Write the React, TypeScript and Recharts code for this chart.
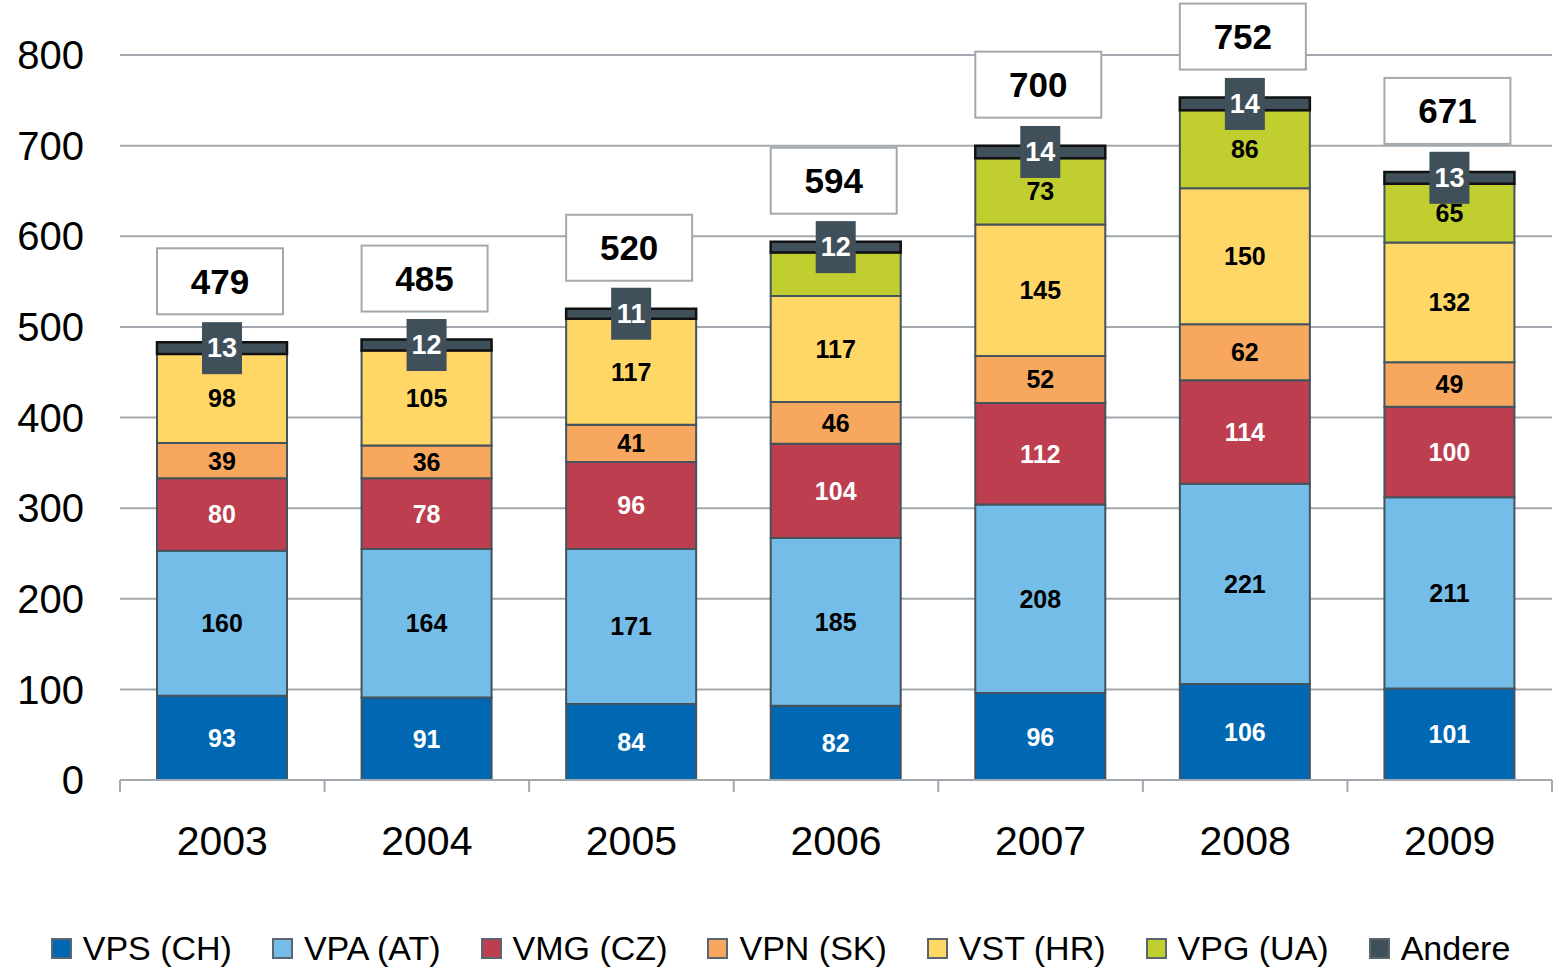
import React from 'react';
import { BarChart, Bar, XAxis, YAxis, CartesianGrid, LabelList, Legend } from 'recharts';

const years = ['2003', '2004', '2005', '2006', '2007', '2008', '2009'];
const vps = [93, 91, 84, 82, 96, 106, 101];
const vpa = [160, 164, 171, 185, 208, 221, 211];
const vmg = [80, 78, 96, 104, 112, 114, 100];
const vpn = [39, 36, 41, 46, 52, 62, 49];
const vst = [98, 105, 117, 117, 145, 150, 132];
const vpg = [null, null, null, 48, 73, 86, 65];
const vpgLabels = [null, null, null, null, 73, 86, 65];
const andere = [13, 12, 11, 12, 14, 14, 13];
const totals = [479, 485, 520, 594, 700, 752, 671];
const yTicks = [0, 100, 200, 300, 400, 500, 600, 700, 800];

const FONT = '"Liberation Sans", Arial, Helvetica, sans-serif';
const GRID = '#A2A8AD';
const EDGE = '#44535C';

const series = [
  { key: 'vps', labelKey: 'vps', name: 'VPS (CH)', color: '#0068B3', text: '#FFFFFF' },
  { key: 'vpa', labelKey: 'vpa', name: 'VPA (AT)', color: '#74BDE8', text: '#000000' },
  { key: 'vmg', labelKey: 'vmg', name: 'VMG (CZ)', color: '#BD3E4E', text: '#FFFFFF' },
  { key: 'vpn', labelKey: 'vpn', name: 'VPN (SK)', color: '#F8A85E', text: '#000000' },
  { key: 'vst', labelKey: 'vst', name: 'VST (HR)', color: '#FFD766', text: '#000000' },
  { key: 'vpg', labelKey: 'vpgLabel', name: 'VPG (UA)', color: '#C1CE2F', text: '#000000' },
];
const andereSeries = { key: 'andere', name: 'Andere', color: '#3F505A' };

const data = years.map((year, i) => ({
  year,
  vps: vps[i],
  vpa: vpa[i],
  vmg: vmg[i],
  vpn: vpn[i],
  vst: vst[i],
  vpg: vpg[i],
  vpgLabel: vpgLabels[i],
  andere: andere[i],
  total: totals[i],
}));

const box = (props: any) => {
  const vb = props.viewBox || props;
  const x = Number(vb.x);
  const w = Number(vb.width);
  let y = Number(vb.y);
  let h = Number(vb.height);
  if (h < 0) {
    y = y + h;
    h = -h;
  }
  return { x, y, w, h };
};

const segLabel = (color: string) => (props: any) => {
  const { value } = props;
  if (value === null || value === undefined) return null;
  const { x, y, w, h } = box(props);
  return (
    <text
      x={x + w / 2}
      y={y + h / 2}
      textAnchor="middle"
      dominantBaseline="central"
      fill={color}
      fontSize={25}
      fontWeight="bold"
      fontFamily={FONT}
    >
      {value}
    </text>
  );
};

const andereLabel = (props: any) => {
  const { value } = props;
  const { x, y, w, h } = box(props);
  const cx = x + w / 2;
  const cy = y + h / 2;
  return (
    <g>
      <rect x={cx - 20} y={cy - 26} width={40} height={52} fill="#3F505A" />
      <text
        x={cx}
        y={cy}
        textAnchor="middle"
        dominantBaseline="central"
        fill="#FFFFFF"
        fontSize={27}
        fontWeight="bold"
        fontFamily={FONT}
      >
        {value}
      </text>
    </g>
  );
};

const totalLabel = (props: any) => {
  const { value } = props;
  const { x, y, w } = box(props);
  const cx = x + w / 2 - 2;
  const bottom = y - 28;
  return (
    <g>
      <rect x={cx - 63} y={bottom - 66} width={126} height={66} fill="#FFFFFF" stroke={GRID} strokeWidth={2} />
      <text
        x={cx}
        y={bottom - 33}
        textAnchor="middle"
        dominantBaseline="central"
        fill="#000000"
        fontSize={35}
        fontWeight="bold"
        fontFamily={FONT}
      >
        {value}
      </text>
    </g>
  );
};

const XTick = (props: any) => {
  const { x, y, payload, index, visibleTicksCount, width } = props;
  const count = visibleTicksCount || years.length;
  const band = (Number(width) || 1432) / count;
  const left = x - band / 2;
  return (
    <g>
      <line x1={left} y1={y} x2={left} y2={y + 12} stroke={GRID} strokeWidth={2} />
      {index === count - 1 && (
        <line x1={x + band / 2} y1={y} x2={x + band / 2} y2={y + 12} stroke={GRID} strokeWidth={2} />
      )}
      <text
        x={x}
        y={y + 61}
        textAnchor="middle"
        dominantBaseline="central"
        fill="#000000"
        fontSize={41}
        fontFamily={FONT}
      >
        {payload.value}
      </text>
    </g>
  );
};

const legendItems = [...series.map((s) => ({ name: s.name, color: s.color })), { name: andereSeries.name, color: andereSeries.color }];

const LegendContent = () => (
  <div
    style={{
      display: 'flex',
      justifyContent: 'center',
      alignItems: 'center',
      gap: 40,
      fontFamily: FONT,
      fontSize: 34,
      color: '#000',
      lineHeight: '40px',
    }}
  >
    {legendItems.map((it) => (
      <div key={it.name} style={{ display: 'flex', alignItems: 'center', whiteSpace: 'nowrap' }}>
        <span
          style={{
            display: 'inline-block',
            width: 17,
            height: 17,
            background: it.color,
            border: '2px solid #5A6670',
            marginRight: 11,
          }}
        />
        <span>{it.name}</span>
      </div>
    ))}
  </div>
);

export default function App() {
  return (
    <div style={{ position: 'absolute', left: 0, top: 0, width: 1561, height: 968, background: '#fff' }}>
      <BarChart
        width={1561}
        height={968}
        data={data}
        margin={{ top: 55, right: 9, left: 0, bottom: 108 }}
        barSize={130}
      >
        <CartesianGrid horizontal vertical={false} stroke={GRID} strokeWidth={2} />
        <XAxis
          dataKey="year"
          height={80}
          axisLine={{ stroke: GRID, strokeWidth: 2 }}
          tickLine={false}
          tickSize={0}
          tickMargin={0}
          tick={<XTick />}
          interval={0}
        />
        <YAxis
          width={120}
          domain={[0, 800]}
          ticks={yTicks}
          axisLine={false}
          tickLine={false}
          tickSize={0}
          tickMargin={36}
          tick={{ fill: '#000', fontSize: 40, fontFamily: FONT }}
        />
        <Legend
          layout="horizontal"
          verticalAlign="middle"
          align="center"
          content={<LegendContent />}
          wrapperStyle={{ top: 928, left: 0, width: 1561 }}
        />
        {series.map((s) => (
          <Bar
            key={s.key}
            dataKey={s.key}
            name={s.name}
            stackId="a"
            fill={s.color}
            stroke={EDGE}
            strokeWidth={2}
            isAnimationActive={false}
          >
            <LabelList dataKey={s.labelKey} content={segLabel(s.text)} />
          </Bar>
        ))}
        <Bar
          dataKey={andereSeries.key}
          name={andereSeries.name}
          stackId="a"
          fill={andereSeries.color}
          stroke="#111111"
          strokeWidth={2.5}
          isAnimationActive={false}
        >
          <LabelList dataKey="andere" content={andereLabel} />
          <LabelList dataKey="total" content={totalLabel} />
        </Bar>
      </BarChart>
    </div>
  );
}
